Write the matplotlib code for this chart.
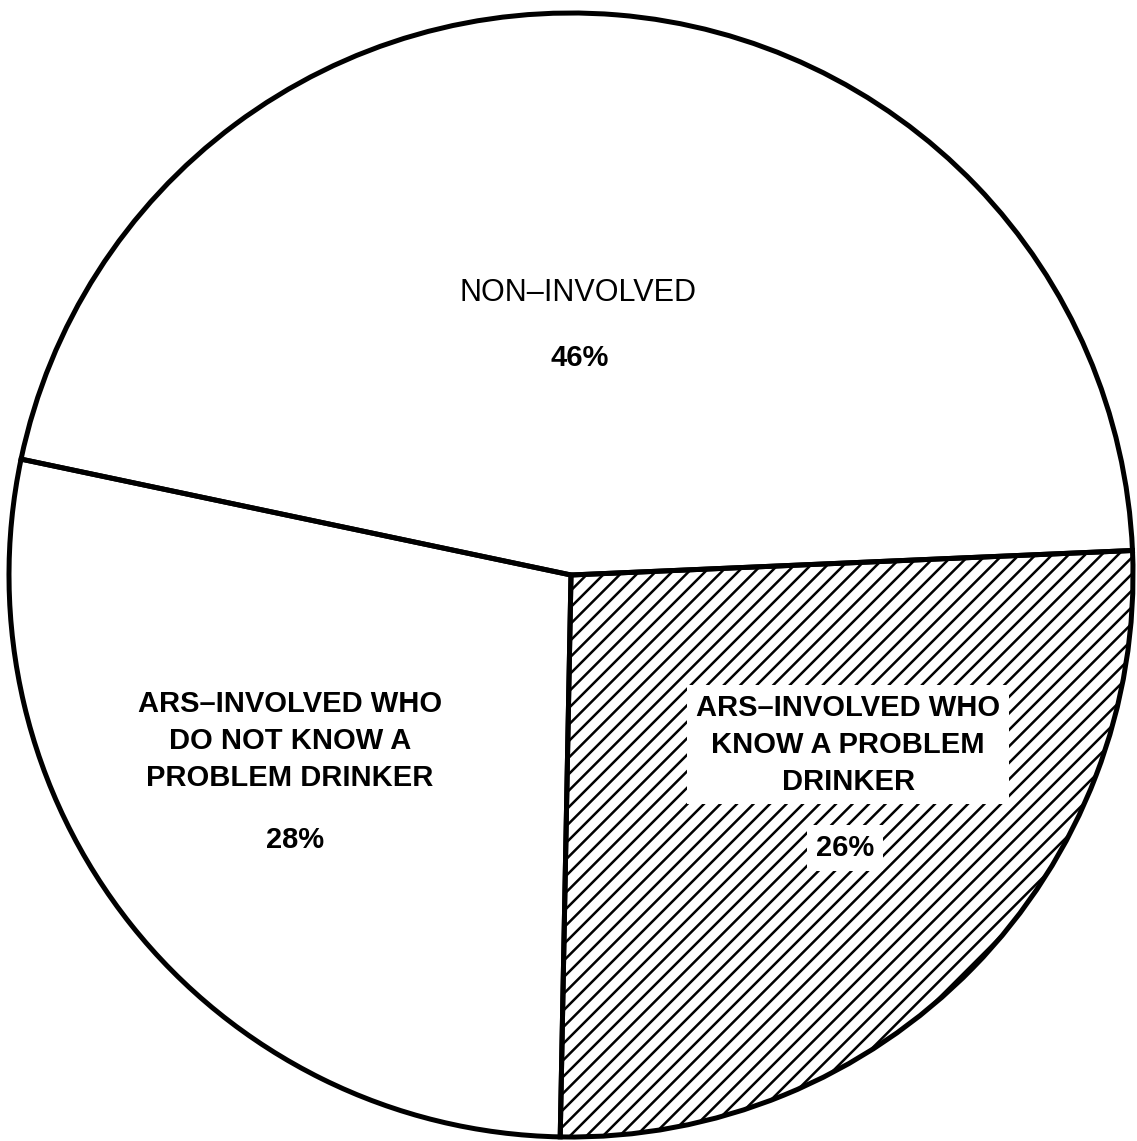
import matplotlib
matplotlib.use("Agg")
import matplotlib.pyplot as plt
import numpy as np
from matplotlib.collections import LineCollection
from matplotlib.patches import Polygon

# ---------------------------------------------------------------
# data
labels = ["NON\u2013INVOLVED",
          "ARS\u2013INVOLVED WHO\nDO NOT KNOW A\nPROBLEM DRINKER",
          "ARS\u2013INVOLVED WHO\nKNOW A PROBLEM\nDRINKER"]
shares = [46, 28, 26]
hatched = [False, False, True]

# ---------------------------------------------------------------
plt.rcParams["font.family"] = ["Liberation Sans", "DejaVu Sans"]

fig = plt.figure(figsize=(11.37, 11.41), dpi=100)
ax = fig.add_axes([0, 0, 1, 1])

wedges, _ = ax.pie(shares, startangle=2.5, counterclock=True,
                   colors=["white"] * 3,
                   wedgeprops=dict(edgecolor="black", linewidth=3.6))

# diagonal hatching, drawn as lines clipped to a finely sampled copy
# of the wedge outline
step = 16.5 / 562        # ~16 px between lines
offs = np.arange(-2.2, 2.2, step)
segs = [[(-1.1, -1.1 + c), (1.1, 1.1 + c)] for c in offs]
for w, h in zip(wedges, hatched):
    if not h:
        continue
    t = np.radians(np.linspace(w.theta1, w.theta2, 400))
    cx, cy = w.center
    pts = np.column_stack([cx + w.r * np.cos(t), cy + w.r * np.sin(t)])
    pts = np.vstack([[cx, cy], pts])
    clip = Polygon(pts, closed=True, facecolor="none", edgecolor="none")
    ax.add_patch(clip)
    lc = LineCollection(segs, colors="black", linewidths=1.8, zorder=2)
    ax.add_collection(lc)
    lc.set_clip_path(clip)

# label positions (centre of each text block), data units
name_pos = [(0.012, 0.502), (-0.50, -0.295), (0.493, -0.302)]
pct_pos = [(0.016, 0.386), (-0.491, -0.472), (0.488, -0.486)]

for i in range(len(shares)):
    box = None
    if hatched[i]:
        box = dict(boxstyle="square,pad=0.3", fc="white", ec="none")
    ax.text(name_pos[i][0], name_pos[i][1], labels[i], ha="center", va="center",
            fontsize=22 if i == 0 else 21, fontweight="bold" if i else "normal",
            linespacing=1.4, bbox=box, zorder=5)
    ax.text(pct_pos[i][0], pct_pos[i][1], f"{shares[i]}%", ha="center", va="center",
            fontsize=21, fontweight="bold", bbox=box, zorder=5)

# outlines over the hatching
for w in wedges:
    w.set_zorder(4)
    w.set_facecolor("none")

ax.set_xlim(-571 / 562, (1137 - 571) / 562)
ax.set_ylim(-(1141 - 575) / 562, 575 / 562)
ax.set_aspect("auto")
ax.axis("off")

fig.savefig("out.png", dpi=100, facecolor="white")
